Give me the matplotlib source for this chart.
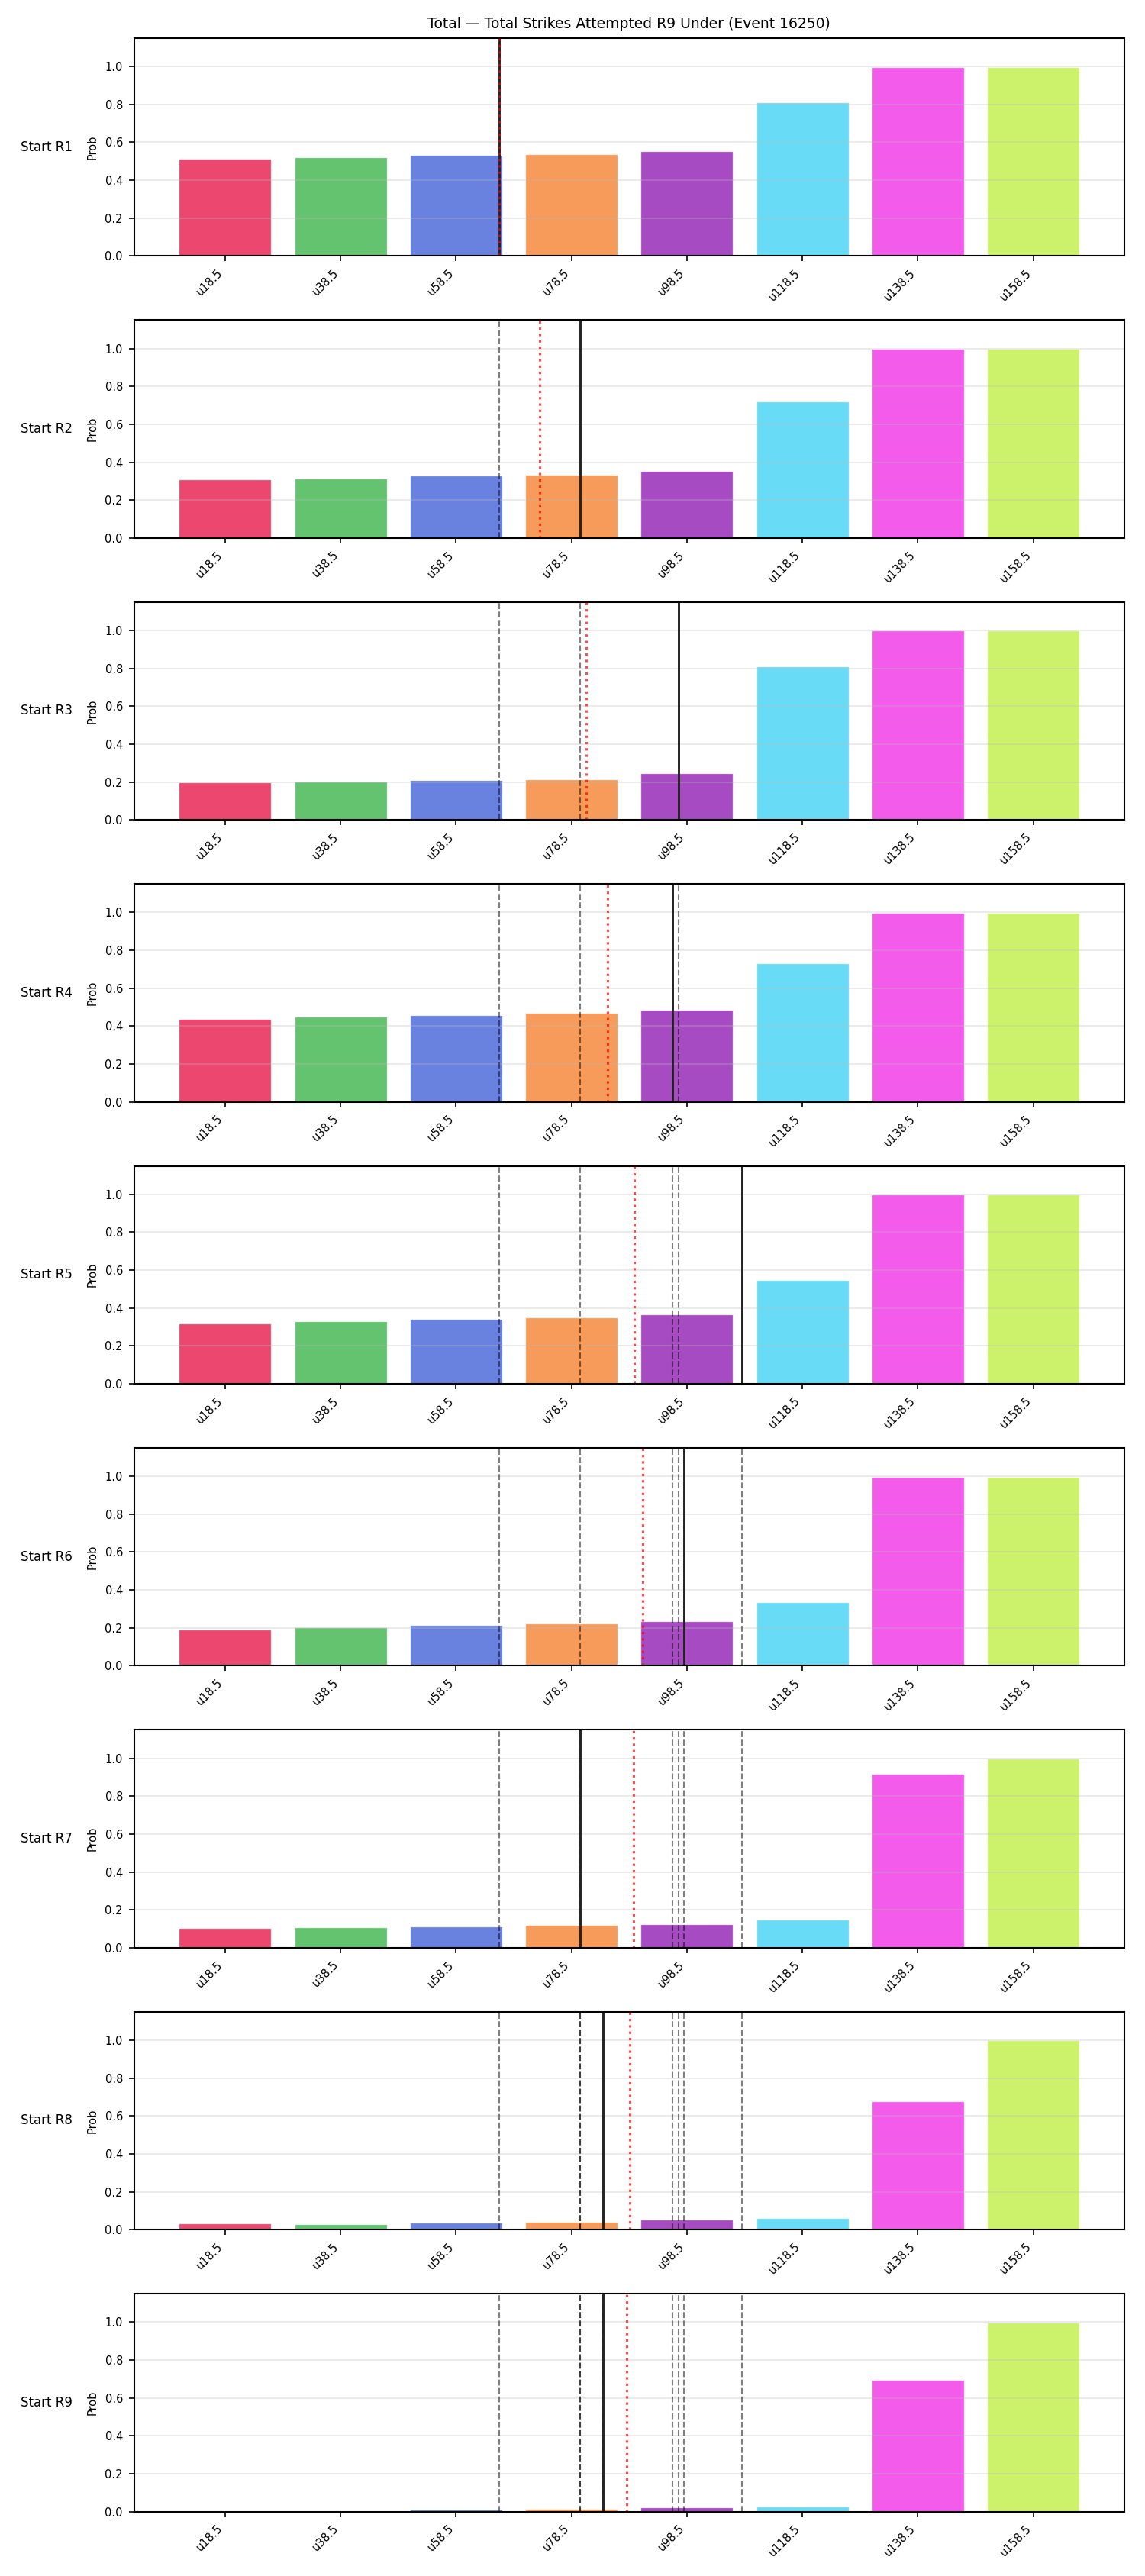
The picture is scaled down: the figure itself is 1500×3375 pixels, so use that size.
import numpy as np
import matplotlib
matplotlib.use("Agg")
import matplotlib.pyplot as plt

title = "Total — Total Strikes Attempted R9 Under (Event 16250)"
thresholds = [18.5, 38.5, 58.5, 78.5, 98.5, 118.5, 138.5, 158.5]
tick_labels = ["u18.5", "u38.5", "u58.5", "u78.5", "u98.5", "u118.5", "u138.5", "u158.5"]
row_labels = ["Start R1", "Start R2", "Start R3", "Start R4", "Start R5",
              "Start R6", "Start R7", "Start R8", "Start R9"]

probs_r1 = [0.515, 0.522, 0.532, 0.538, 0.554, 0.812, 0.997, 0.997]
probs_r2 = [0.309, 0.313, 0.331, 0.333, 0.354, 0.722, 0.997, 0.997]
probs_r3 = [0.200, 0.203, 0.212, 0.216, 0.247, 0.812, 0.998, 0.998]
probs_r4 = [0.438, 0.449, 0.458, 0.470, 0.486, 0.731, 0.998, 0.998]
probs_r5 = [0.319, 0.330, 0.344, 0.350, 0.367, 0.549, 0.998, 0.998]
probs_r6 = [0.193, 0.202, 0.214, 0.225, 0.237, 0.337, 0.998, 0.998]
probs_r7 = [0.103, 0.107, 0.114, 0.120, 0.126, 0.148, 0.917, 0.998]
probs_r8 = [0.032, 0.031, 0.039, 0.043, 0.052, 0.063, 0.679, 0.998]
probs_r9 = [0.001, 0.003, 0.011, 0.015, 0.023, 0.027, 0.694, 0.998]
all_probs = [probs_r1, probs_r2, probs_r3, probs_r4, probs_r5,
             probs_r6, probs_r7, probs_r8, probs_r9]

# value at each starting round (solid black), earlier ones shown dashed gray
round_values = [66, 80, 97, 96, 108, 98, 80, 84, 84]
# running average marker (red dotted)
avg_values = [66, 73, 81, 84.75, 89.4, 90.8, 89.3, 88.6, 88.1]

colors = ["#e6194b", "#3cb44b", "#4363d8", "#f58231", "#911eb4",
          "#42d4f4", "#f032e6", "#bfef45"]

fig, axes = plt.subplots(9, 1, figsize=(10, 22.5), dpi=150)
fig.subplots_adjust(left=0.117, right=0.982, top=0.9852, bottom=0.025, hspace=0.294)

idx = np.arange(len(thresholds))

def pos(v):
    return np.interp(v, thresholds, idx)

for r, ax in enumerate(axes):
    ax.bar(idx, all_probs[r], width=0.8, color=colors, alpha=0.8,
           edgecolor="white", linewidth=0.6)
    for k in range(r):
        ax.axvline(pos(round_values[k]), color="black", alpha=0.5,
                   linestyle="--", linewidth=1.0)
    ax.axvline(pos(round_values[r]), color="#222222", linewidth=1.4)
    ax.axvline(pos(avg_values[r]), color="red", alpha=0.7,
               linestyle=":", linewidth=1.5)
    ax.set_ylim(0, 1.15)
    ax.set_yticks([0.0, 0.2, 0.4, 0.6, 0.8, 1.0])
    ax.grid(axis="y", color="#bbbbbb", alpha=0.35, linewidth=0.8)
    ax.set_xticks(idx)
    ax.set_xticklabels(tick_labels, rotation=45, ha="right", fontsize=7)
    ax.tick_params(axis="y", labelsize=7)
    ax.set_ylabel("Prob", fontsize=7)
    ax.text(-0.062, 0.5, row_labels[r], transform=ax.transAxes,
            ha="right", va="center", fontsize=8)
    for s in ax.spines.values():
        s.set_color("black")
        s.set_linewidth(1.0)

axes[0].set_title(title, fontsize=9)

fig.savefig("out.png", dpi=150)
